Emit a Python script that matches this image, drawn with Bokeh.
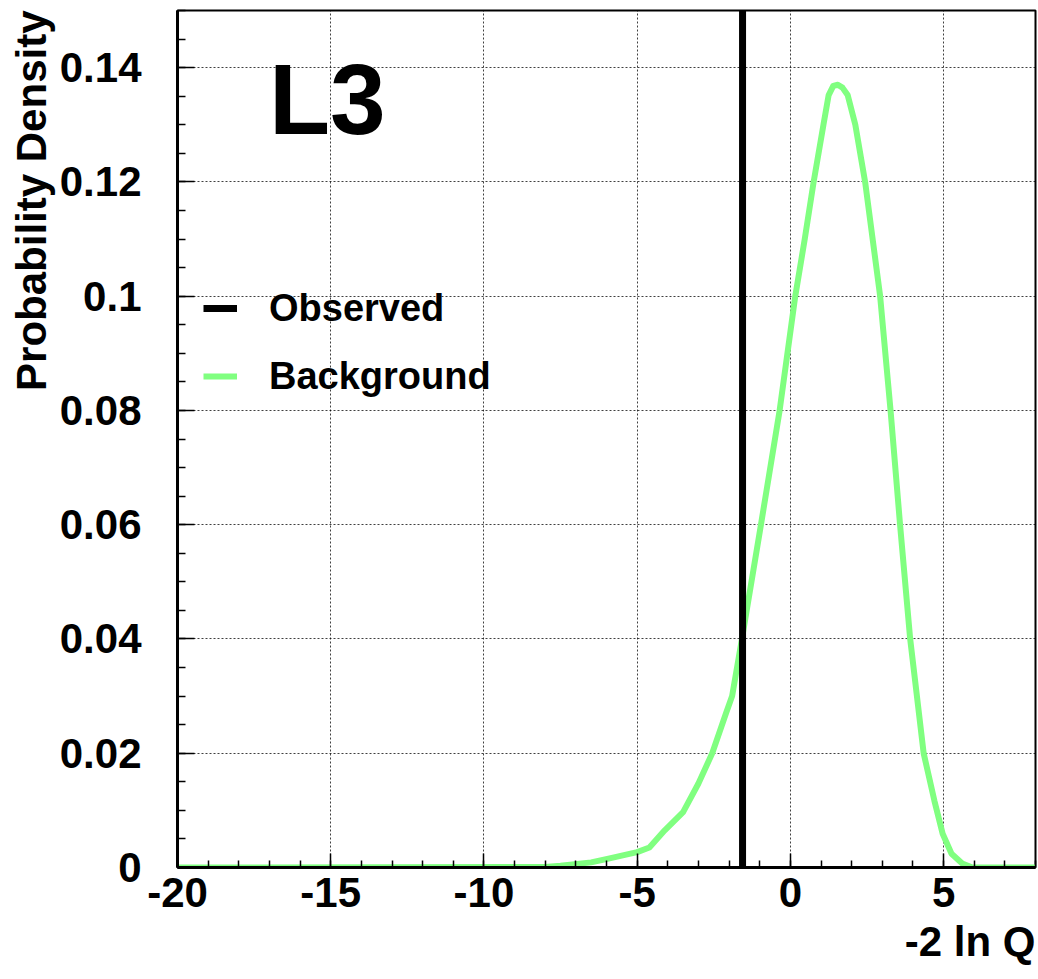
from bokeh.plotting import figure
from bokeh.models import (Range1d, FixedTicker, Legend, LegendItem, Title,
                          CustomJSTickFormatter)
from bokeh.embed import file_html
from bokeh.resources import INLINE

# ---- data ----
bkg_x = [-20, -8.0, -7.5, -6.5, -5.9, -5.0, -4.6, -4.1, -3.5, -3.0, -2.55, -2.1, -1.9,
         -1.58, -0.96, -0.35, 0.16, 0.47, 0.76, 1.08, 1.25, 1.4, 1.55, 1.7, 1.87, 2.12,
         2.44, 2.93, 3.27, 3.58, 3.91, 4.35, 4.70, 4.97, 5.26, 5.61, 5.94, 8]
bkg_y = [0, 0.0001, 0.0003, 0.0009, 0.0016, 0.0027, 0.0035, 0.0065, 0.0097, 0.0147, 0.02,
         0.027, 0.03, 0.04, 0.06, 0.08, 0.10, 0.11, 0.12, 0.13, 0.1352, 0.1368, 0.137,
         0.1365, 0.1352, 0.13, 0.12, 0.10, 0.08, 0.06, 0.04, 0.02, 0.0117, 0.0059, 0.0024,
         0.0007, 0.0, 0]
observed_x = -1.56
tag_text = "L3"

x_lo, x_hi = -20, 8
y_lo, y_hi = 0, 0.15
x_major = [-20, -15, -10, -5, 0, 5]
x_major_labels = ["-20", "-15", "-10", "-5", "0", "5"]
x_minor = list(range(-20, 9))
y_major = [0, 0.02, 0.04, 0.06, 0.08, 0.10, 0.12, 0.14]
y_major_labels = ["0", "0.02", "0.04", "0.06", "0.08", "0.1", "0.12", "0.14"]
y_minor = [round(i * 0.005, 4) for i in range(31)]

FONT = "Liberation Sans"

LOOKUP = """
for (let i = 0; i < tick_vals.length; i++) {
    if (Math.abs(tick_vals[i] - tick) < 1e-9) { return tick_texts[i]; }
}
return "";
"""

p = figure(width=1038, height=979, x_range=Range1d(x_lo, x_hi), y_range=Range1d(y_lo, y_hi),
           output_backend="svg", toolbar_location=None,
           min_border_left=177, min_border_right=3, min_border_top=10, min_border_bottom=112)
p.background_fill_color = "white"
p.border_fill_color = "white"
p.outline_line_color = "black"
p.outline_line_width = 2

# axes
p.xaxis.ticker = FixedTicker(ticks=x_major, minor_ticks=x_minor)
p.yaxis.ticker = FixedTicker(ticks=y_major, minor_ticks=y_minor)
p.xaxis.formatter = CustomJSTickFormatter(
    args=dict(tick_vals=x_major, tick_texts=x_major_labels), code=LOOKUP)
p.yaxis.formatter = CustomJSTickFormatter(
    args=dict(tick_vals=y_major, tick_texts=y_major_labels), code=LOOKUP)
for ax in (p.xaxis, p.yaxis):
    ax.axis_line_width = 3
    ax.axis_line_color = "black"
    ax.major_tick_out = 0
    ax.minor_tick_out = 0
    ax.major_tick_line_width = 1.5
    ax.minor_tick_line_width = 1.5
    ax.major_tick_line_color = "black"
    ax.minor_tick_line_color = "black"
    ax.major_label_text_font = FONT
    ax.major_label_text_font_style = "bold"
    ax.major_label_text_font_size = "42px"
    ax.major_label_text_color = "black"
p.xaxis.major_tick_in = 14
p.xaxis.minor_tick_in = 7
p.yaxis.major_tick_in = 17
p.yaxis.minor_tick_in = 8
p.xaxis.major_label_standoff = 10
p.yaxis.major_label_standoff = 36

# grid
for g in (p.xgrid, p.ygrid):
    g.grid_line_color = "black"
    g.grid_line_alpha = 0.75
    g.grid_line_width = 1
    g.grid_line_dash = "2 2"

# axis titles
p.add_layout(Title(text="-2 ln Q", align="right", text_font=FONT, text_font_style="bold",
                   text_font_size="42px", text_color="black", standoff=12), "below")
p.add_layout(Title(text="Probability Density", align="right", text_font=FONT,
                   text_font_style="bold", text_font_size="42px", text_color="black",
                   standoff=3), "left")

# curves
r_bkg = p.line(bkg_x, bkg_y, line_color="#80ff80", line_width=6, line_join="round")
r_obs = p.line([observed_x, observed_x], [y_lo, y_hi], line_color="black", line_width=7)

legend = Legend(items=[LegendItem(label="Observed", renderers=[r_obs]),
                       LegendItem(label="Background", renderers=[r_bkg])],
                location=(26, 469), orientation="vertical",
                label_text_font=FONT, label_text_font_style="bold",
                label_text_font_size="38px", label_text_color="black",
                glyph_width=34, glyph_height=44, label_height=44, label_standoff=32,
                spacing=24, padding=0, margin=0,
                border_line_alpha=0, background_fill_alpha=0)
p.add_layout(legend)

# big experiment tag, drawn as a glyph-less legend entry
tag = Legend(items=[LegendItem(label=tag_text, renderers=[r_bkg])],
             location=(92, 710), orientation="vertical",
             label_text_font=FONT, label_text_font_style="bold",
             label_text_font_size="100px", label_text_color="black",
             glyph_width=0, glyph_height=116, label_height=116, label_standoff=0,
             spacing=0, padding=0, margin=0,
             border_line_alpha=0, background_fill_alpha=0)
p.add_layout(tag)

open("out.html", "w").write(file_html(p, INLINE))
